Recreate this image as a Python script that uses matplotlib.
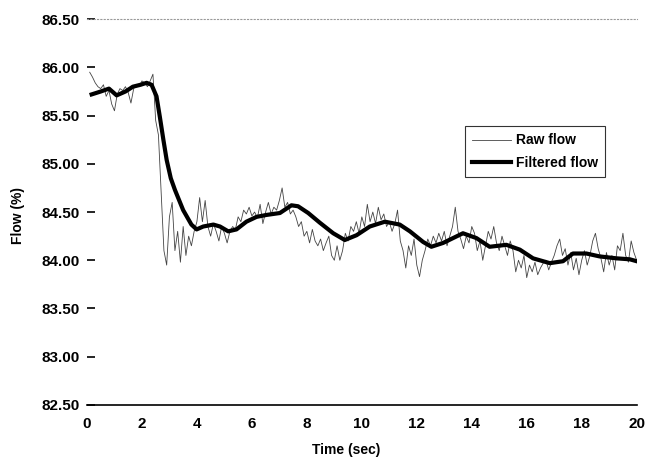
import numpy as np
import matplotlib
matplotlib.use('Agg')
import matplotlib.pyplot as plt
from matplotlib.ticker import FormatStrFormatter

plt.rcParams['font.family'] = ['Liberation Sans', 'DejaVu Sans']
plt.rcParams['font.weight'] = 'bold'

# Raw flow, sampled every 0.1 s from 0.1 to 20.0 s
raw_flow = [
    85.95, 85.90, 85.84, 85.80, 85.78, 85.82, 85.70, 85.76, 85.62, 85.55,
    85.72, 85.78, 85.76, 85.80, 85.74, 85.63, 85.78, 85.82, 85.80, 85.86,
    85.84, 85.80, 85.86, 85.93, 85.45, 85.30, 84.70, 84.10, 83.95, 84.45,
    84.60, 84.10, 84.30, 83.98, 84.35, 84.05, 84.25, 84.15, 84.30, 84.40,
    84.65, 84.40, 84.62, 84.35, 84.25, 84.38, 84.30, 84.20, 84.35, 84.28,
    84.18, 84.30, 84.35, 84.32, 84.45, 84.40, 84.52, 84.48, 84.55, 84.46,
    84.50, 84.44, 84.58, 84.38, 84.50, 84.60, 84.48, 84.55, 84.52, 84.62,
    84.75, 84.55, 84.60, 84.48, 84.52, 84.45, 84.35, 84.40, 84.25, 84.30,
    84.18, 84.32, 84.20, 84.15, 84.22, 84.10, 84.18, 84.25, 84.05, 84.00,
    84.15, 84.00, 84.10, 84.28, 84.20, 84.35, 84.30, 84.40, 84.28, 84.45,
    84.35, 84.58, 84.40, 84.50, 84.38, 84.55, 84.42, 84.48, 84.35, 84.40,
    84.30, 84.38, 84.52, 84.20, 84.10, 83.92, 84.15, 84.05, 84.22, 83.95,
    83.83, 84.00, 84.10, 84.22, 84.15, 84.25, 84.18, 84.28, 84.20, 84.30,
    84.15, 84.25, 84.35, 84.55, 84.30, 84.22, 84.12, 84.25, 84.18, 84.35,
    84.28, 84.10, 84.20, 84.00, 84.15, 84.30, 84.22, 84.35, 84.18, 84.10,
    84.25, 84.15, 84.05, 84.20, 84.10, 83.88, 84.00, 83.92, 84.05, 83.82,
    83.95, 83.88, 83.98, 83.85, 83.92, 83.97, 84.00, 83.90, 83.98, 84.05,
    84.15, 84.22, 84.05, 84.12, 83.95, 84.08, 83.90, 84.02, 83.85, 84.00,
    84.10, 83.95, 84.05, 84.20, 84.28, 84.12, 84.02, 83.88, 84.08, 83.95,
    84.05, 83.90, 84.15, 84.10, 84.28, 84.05, 83.98, 84.20, 84.08, 84.00,
]
raw_time = np.arange(1, len(raw_flow) + 1) / 10.0

# Filtered flow
filt_time = [0.17, 0.5, 0.8, 1.08, 1.4, 1.67, 1.95, 2.17, 2.35, 2.53, 2.65, 2.78,
             2.9, 3.05, 3.2, 3.5, 3.8, 3.99, 4.23, 4.6, 4.84, 5.14, 5.44, 5.8,
             6.17, 6.53, 7.02, 7.44, 7.68, 8.05, 8.47, 8.96, 9.38, 9.81, 10.29,
             10.84, 11.38, 11.75, 12.23, 12.53, 12.96, 13.32, 13.68, 14.17,
             14.65, 15.26, 15.75, 16.23, 16.84, 17.32, 17.68, 18.17, 18.65,
             19.26, 19.75, 20.0]
filt_flow = [85.72, 85.75, 85.78, 85.71, 85.75, 85.80, 85.82, 85.84, 85.82, 85.70,
             85.49, 85.25, 85.04, 84.85, 84.73, 84.52, 84.37, 84.32, 84.35, 84.37,
             84.35, 84.30, 84.32, 84.40, 84.45, 84.47, 84.49, 84.57, 84.56, 84.49,
             84.39, 84.28, 84.21, 84.26, 84.35, 84.40, 84.37, 84.30, 84.19, 84.14,
             84.18, 84.23, 84.28, 84.23, 84.14, 84.16, 84.11, 84.02, 83.97, 83.99,
             84.07, 84.07, 84.04, 84.02, 84.01, 83.99]

fig = plt.figure(figsize=(6.49, 4.57), dpi=100)
ax = fig.add_axes([0.134, 0.114, 0.847, 0.844])

ax.plot(raw_time, raw_flow, color='#444444', linewidth=0.6, label='Raw flow')
ax.plot(filt_time, filt_flow, color='black', linewidth=3, label='Filtered flow',
        solid_joinstyle='round')

ax.set_xlim(0, 20)
ax.set_ylim(82.5, 86.5)
ax.set_xticks(np.arange(0, 21, 2))
ax.set_yticks(np.arange(82.5, 86.51, 0.5))
ax.yaxis.set_major_formatter(FormatStrFormatter('%.2f'))

ax.spines['left'].set_visible(False)
ax.spines['right'].set_visible(False)
ax.spines['top'].set_color('#999999')
ax.spines['top'].set_linestyle((0, (1, 2)))
ax.spines['top'].set_linewidth(0.8)
ax.spines['bottom'].set_linewidth(1.2)

ax.tick_params(axis='y', direction='in', length=6, width=1.2, pad=5, labelsize=11)
ax.tick_params(axis='x', length=0, pad=9, labelsize=11)

ax.set_xlabel('Time (sec)', fontsize=10, fontweight='bold')
ax.set_ylabel('Flow (%)', fontsize=10, fontweight='bold')
ax.xaxis.set_label_coords(0.472, -0.1)
ax.yaxis.set_label_coords(-0.113, 0.49)

leg = ax.legend(loc='upper left', bbox_to_anchor=(0.675, 0.74), fontsize=10,
                frameon=True, fancybox=False, handlelength=2.8, borderpad=0.5,
                labelspacing=0.6, handletextpad=0.4)
leg.get_frame().set_edgecolor('black')
leg.get_frame().set_linewidth(0.8)

plt.savefig('out.png', dpi=100)
